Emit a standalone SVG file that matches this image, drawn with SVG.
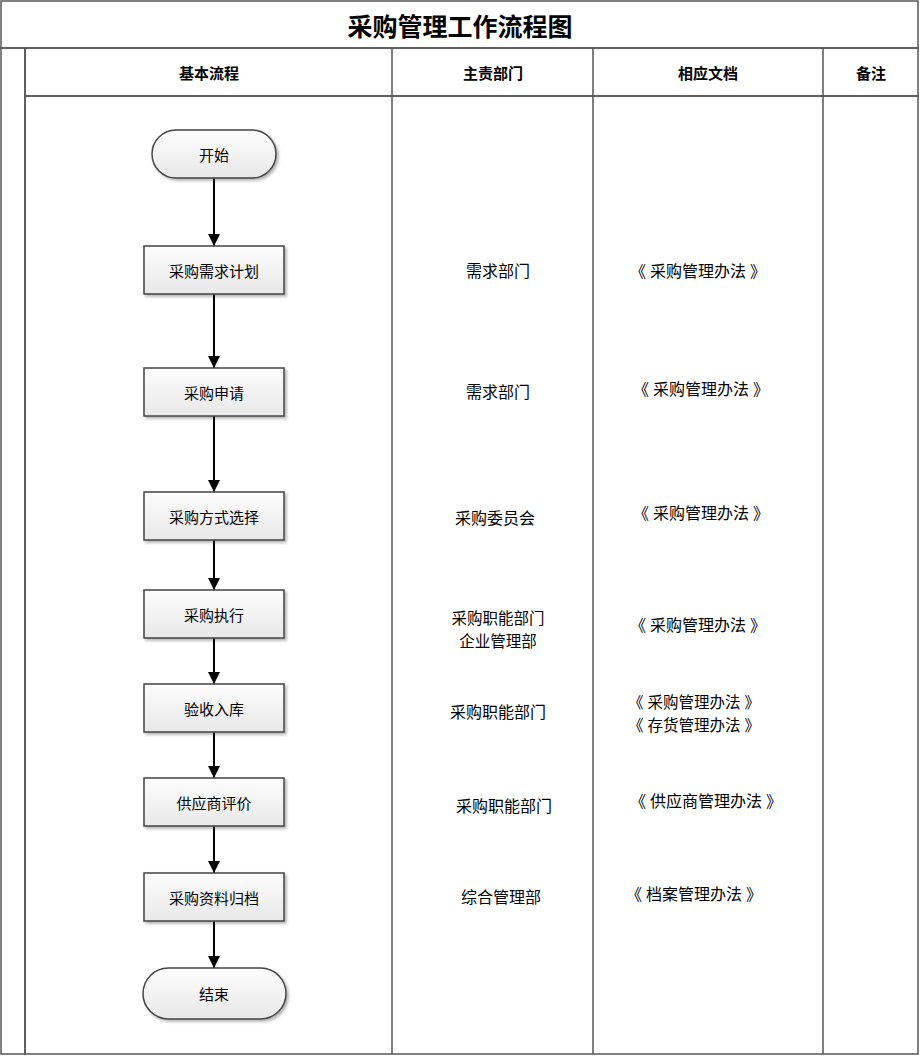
<svg xmlns="http://www.w3.org/2000/svg" width="920" height="1056" viewBox="0 0 920 1056">
<defs>
<linearGradient id="gBand" x1="0" y1="0" x2="0" y2="1">
<stop offset="0" stop-color="#ffffff"/><stop offset="1" stop-color="#e6e6e6"/>
</linearGradient>
<linearGradient id="gSide" x1="0" y1="0" x2="1" y2="0">
<stop offset="0" stop-color="#e4e4e4"/><stop offset="1" stop-color="#fafafa"/>
</linearGradient>
<linearGradient id="gBox" x1="0" y1="0" x2="0" y2="1">
<stop offset="0" stop-color="#fdfdfd"/><stop offset="1" stop-color="#e8e8e8"/>
</linearGradient>
<marker id="arr" markerWidth="12" markerHeight="14" refX="12" refY="6" orient="auto" markerUnits="userSpaceOnUse">
<path d="M0,0 L12,6 L0,12 Z" fill="#000"/>
</marker>
<filter id="sh" x="-10%" y="-10%" width="130%" height="140%">
<feDropShadow dx="2" dy="2" stdDeviation="1.5" flood-color="#000" flood-opacity="0.3"/>
</filter>
</defs>
<style>
text{font-family:"Noto Sans CJK SC","Noto Sans",sans-serif;fill:#000;text-anchor:middle;dominant-baseline:central}
.t{font-size:15px}
.c{font-size:16px}
.m{font-size:15.5px}
.h{font-size:15px;font-weight:bold}
.title{font-size:25px;font-weight:bold}
.grid{stroke:#555;stroke-width:1.5;fill:none}
.box{fill:url(#gBox);stroke:#444;stroke-width:1.5;filter:url(#sh)}
.conn{stroke:#000;stroke-width:2;fill:none;marker-end:url(#arr)}
</style>
<rect x="0" y="0" width="920" height="1056" fill="#fff"/>
<g id="frame">
<rect x="1" y="1" width="917" height="47" fill="url(#gBand)" class="grid"/>
<rect x="1" y="48" width="24" height="1006" fill="url(#gSide)" class="grid"/>
<rect x="25" y="48" width="893" height="48" fill="url(#gBand)" class="grid"/>
<rect x="25" y="96" width="893" height="958" fill="#fff" class="grid"/>
<line x1="392" y1="48" x2="392" y2="1054" class="grid"/>
<line x1="593" y1="48" x2="593" y2="1054" class="grid"/>
<line x1="823" y1="48" x2="823" y2="1054" class="grid"/>
<text x="460" y="25" class="title">采购管理工作流程图</text>
<text x="209" y="72" class="h">基本流程</text>
<text x="493" y="72" class="h">主责部门</text>
<text x="708" y="72" class="h">相应文档</text>
<text x="871" y="72" class="h">备注</text>
</g>
<g id="connectors">
<line x1="214" y1="178" x2="214" y2="246" class="conn"/>
<line x1="214" y1="294" x2="214" y2="368" class="conn"/>
<line x1="214" y1="416" x2="214" y2="492" class="conn"/>
<line x1="214" y1="540" x2="214" y2="590" class="conn"/>
<line x1="214" y1="638" x2="214" y2="684" class="conn"/>
<line x1="214" y1="732" x2="214" y2="778" class="conn"/>
<line x1="214" y1="826" x2="214" y2="873" class="conn"/>
<line x1="214" y1="921" x2="214" y2="968" class="conn"/>
</g>
<g id="start"><rect x="152" y="130" width="124" height="48" rx="24" class="box"/><text x="214" y="154" class="t">开始</text></g>
<g id="n1"><rect x="144" y="246" width="140" height="48" class="box"/><text x="214" y="270" class="t">采购需求计划</text></g>
<g id="n2"><rect x="144" y="368" width="140" height="48" class="box"/><text x="214" y="392" class="t">采购申请</text></g>
<g id="n3"><rect x="144" y="492" width="140" height="48" class="box"/><text x="214" y="516" class="t">采购方式选择</text></g>
<g id="n4"><rect x="144" y="590" width="140" height="48" class="box"/><text x="214" y="614" class="t">采购执行</text></g>
<g id="n5"><rect x="144" y="684" width="140" height="48" class="box"/><text x="214" y="708" class="t">验收入库</text></g>
<g id="n6"><rect x="144" y="778" width="140" height="48" class="box"/><text x="214" y="802" class="t">供应商评价</text></g>
<g id="n7"><rect x="144" y="873" width="140" height="48" class="box"/><text x="214" y="897" class="t">采购资料归档</text></g>
<g id="end"><rect x="143" y="968" width="143" height="51" rx="25.5" class="box"/><text x="214" y="993" class="t">结束</text></g>
<g id="dept">
<text x="498" y="270" class="c">需求部门</text>
<text x="498" y="391" class="c">需求部门</text>
<text x="495" y="517" class="c">采购委员会</text>
<text x="498" y="617" class="m">采购职能部门</text>
<text x="498" y="640" class="m">企业管理部</text>
<text x="498" y="711" class="c">采购职能部门</text>
<text x="504" y="805" class="c">采购职能部门</text>
<text x="501" y="896" class="c">综合管理部</text>
</g>
<g id="docs">
<text x="698" y="270" class="c">《<tspan dx="4">采购管理办法</tspan><tspan dx="4">》</tspan></text>
<text x="701" y="388" class="c">《<tspan dx="4">采购管理办法</tspan><tspan dx="4">》</tspan></text>
<text x="701" y="512" class="c">《<tspan dx="4">采购管理办法</tspan><tspan dx="4">》</tspan></text>
<text x="698" y="624" class="c">《<tspan dx="4">采购管理办法</tspan><tspan dx="4">》</tspan></text>
<text x="694" y="701" class="m">《<tspan dx="4">采购管理办法</tspan><tspan dx="4">》</tspan></text>
<text x="694" y="724" class="m">《<tspan dx="4">存货管理办法</tspan><tspan dx="4">》</tspan></text>
<text x="706" y="800" class="c">《<tspan dx="4">供应商管理办法</tspan><tspan dx="4">》</tspan></text>
<text x="694" y="893" class="c">《<tspan dx="4">档案管理办法</tspan><tspan dx="4">》</tspan></text>
</g>
</svg>
